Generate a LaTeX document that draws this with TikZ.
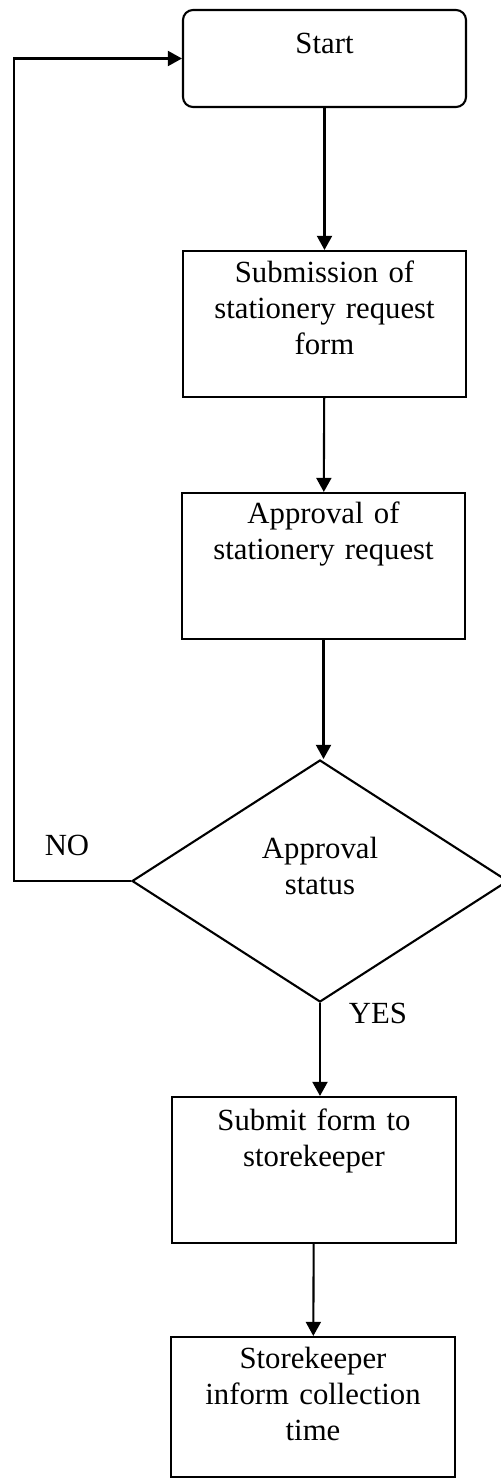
\documentclass[tikz,border=0pt]{standalone}
\usepackage{fontspec}
\setmainfont{Liberation Serif}
\usetikzlibrary{arrows.meta,shapes.geometric}
\tikzset{
  stepbox/.style={draw, rectangle, text width=5.66cm, align=center, inner sep=0pt, line width=1.2pt, text height=0.62cm, text depth=2.30cm},
  startbox/.style={stepbox, rounded corners=0.2cm},
  decision/.style={diamond, draw, line width=1.2pt, align=center, inner sep=0pt, text width=3cm, shape aspect=1.55, minimum width=7.52cm, minimum height=4.84cm},
  arrow/.style={-{Triangle[length=8pt,width=8.5pt]}, line width=1.2pt}
}
\begin{document}
\begin{tikzpicture}[font=\fontsize{17.5}{20.7}\selectfont]
  \useasboundingbox (0,0) rectangle (10.02,-29.56);

  \node[startbox, text height=0.88cm, text depth=1.06cm] (start) at (6.49,-1.17) {Start};
  \node[stepbox] (submit) at (6.49,-6.48) {Submission of\\stationery request\\form};
  \node[stepbox, text height=0.60cm, text depth=2.32cm] (approve) at (6.47,-11.32) {Approval of\\stationery request};
  \node[decision, text height=0.62cm, text depth=1.54cm] (status) at (6.40,-17.62) {Approval\\status};
  \node[stepbox, text width=5.68cm, text height=0.66cm, text depth=2.26cm] (store) at (6.28,-23.40) {Submit form to\\storekeeper};
  \node[stepbox, text width=5.68cm, text height=0.62cm, text depth=2.18cm] (inform) at (6.26,-28.14) {Storekeeper\\inform collection\\time};

  \node (no) at (1.34,-16.90) {NO};
  \node (yes) at (7.56,-20.26) {YES};
  \coordinate (ret) at (0.28,-17.62);

  \draw[arrow] (start) -- (submit);
  \draw[arrow] (submit) -- (approve);
  \draw[arrow] (approve.south) -- (approve.south |- status.north);
  \draw[arrow] (status.south) -- (status.south |- store.north);
  \draw[arrow] (store) -- (inform);
  \draw[arrow] (status.west) -- (ret) |- (start.west);
\end{tikzpicture}
\end{document}
